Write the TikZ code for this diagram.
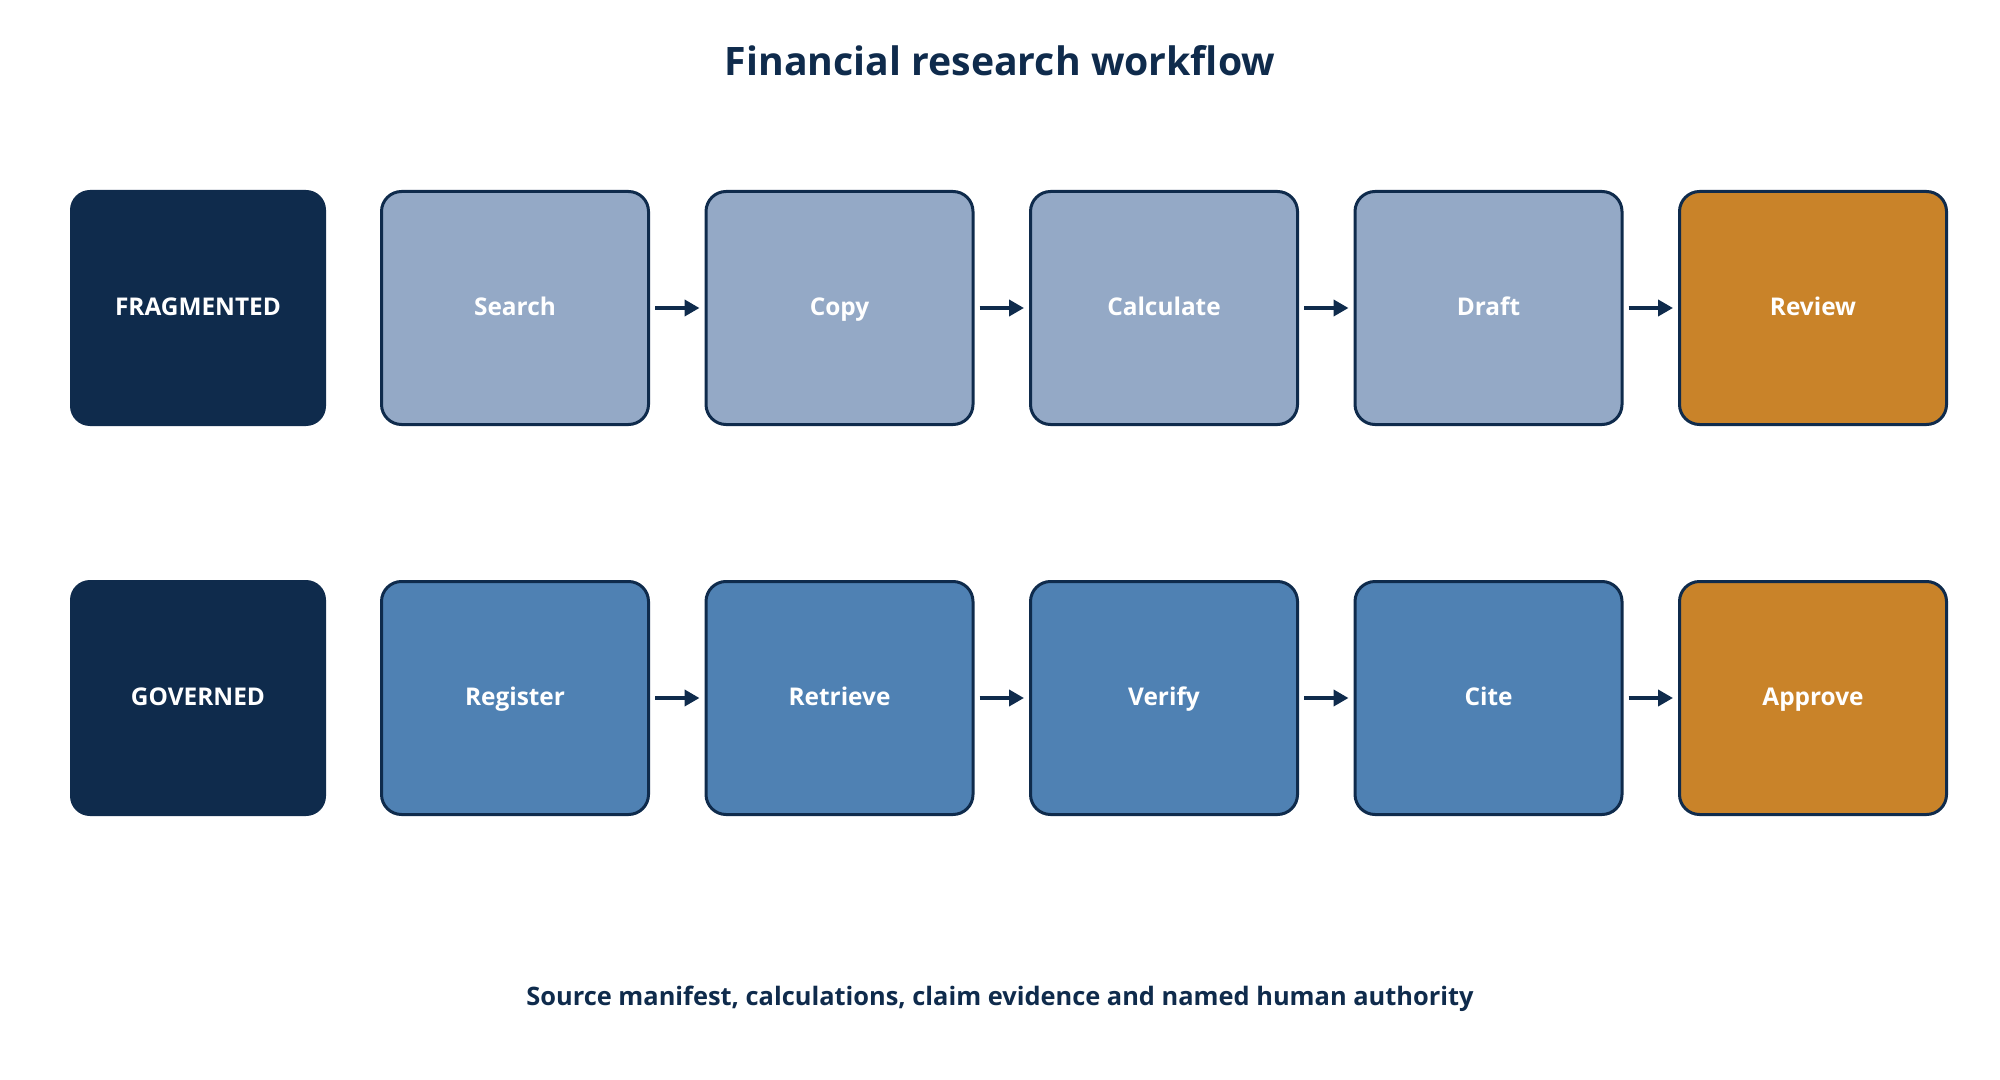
\documentclass[tikz,border=0pt]{standalone}
\usepackage{fontspec}
\setmainfont{Open Sans}
\usetikzlibrary{arrows.meta}
\definecolor{navy}{HTML}{0F2B4C}
\definecolor{paleblue}{HTML}{94A9C6}
\definecolor{midblue}{HTML}{4F81B3}
\definecolor{ochre}{HTML}{C98329}
\tikzset{
  rowlabel/.style={fill=navy,rounded corners=10pt,minimum width=128pt,minimum height=118pt,
    text=white,font=\bfseries\fontsize{12.2}{14}\selectfont,inner sep=0pt,
    text height=0.714em,text depth=0pt},
  stagebox/.style={draw=navy,line width=1.5pt,rounded corners=10pt,minimum width=133.5pt,
    minimum height=116.5pt,text=white,font=\bfseries\fontsize{12.2}{14}\selectfont,inner sep=0pt,
    text height=0.714em,text depth=0pt},
  flow/.style={draw=navy,line width=2.25pt,-{Triangle[length=7.5pt,width=8pt]},
    shorten <=2.5pt,shorten >=2.5pt}
}
\begin{document}
\begin{tikzpicture}[x=0.5pt,y=-0.5pt]
\useasboundingbox (0,0) rectangle (2000,1080);
\node[text=navy,font=\bfseries\fontsize{19.6}{23}\selectfont] (title) at (1000,61) {Financial research workflow};
% fragmented row
\node[rowlabel] (frag) at (198,308) {FRAGMENTED};
\node[stagebox,fill=paleblue] (search) at (515,308) {Search};
\node[stagebox,fill=paleblue] (copy) at (839.5,308) {Copy};
\node[stagebox,fill=paleblue] (calc) at (1164,308) {Calculate};
\node[stagebox,fill=paleblue] (draft) at (1488.5,308) {Draft};
\node[stagebox,fill=ochre] (review) at (1813,308) {Review};
\draw[flow] (search)--(copy);
\draw[flow] (copy)--(calc);
\draw[flow] (calc)--(draft);
\draw[flow] (draft)--(review);
% governed row
\node[rowlabel] (gov) at (198,698) {GOVERNED};
\node[stagebox,fill=midblue] (register) at (515,698) {Register};
\node[stagebox,fill=midblue] (retrieve) at (839.5,698) {Retrieve};
\node[stagebox,fill=midblue] (verify) at (1164,698) {Verify};
\node[stagebox,fill=midblue] (cite) at (1488.5,698) {Cite};
\node[stagebox,fill=ochre] (approve) at (1813,698) {Approve};
\draw[flow] (register)--(retrieve);
\draw[flow] (retrieve)--(verify);
\draw[flow] (verify)--(cite);
\draw[flow] (cite)--(approve);
\node[text=navy,font=\bfseries\fontsize{12.7}{15}\selectfont] (note) at (1000,999) {Source manifest, calculations, claim evidence and named human authority};
\end{tikzpicture}
\end{document}
